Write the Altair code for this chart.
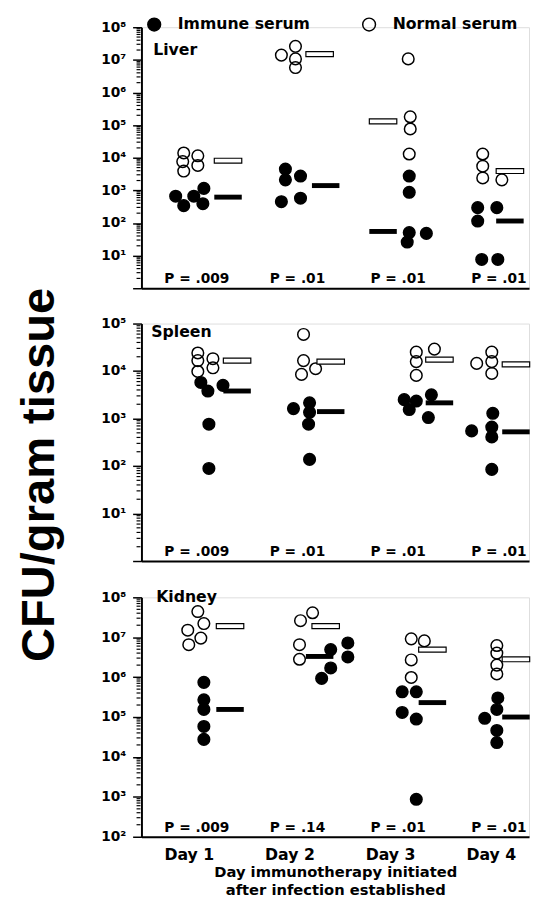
import altair as alt
import pandas as pd

DAYS = [1, 2, 3, 4]
GROUPS = ["Immune serum", "Normal serum"]

P_LIVER = ["P = .009", "P = .01", "P = .01", "P = .01"]
P_SPLEEN = ["P = .009", "P = .01", "P = .01", "P = .01"]
P_KIDNEY = ["P = .009", "P = .14", "P = .01", "P = .01"]

# ---- CFU / gram tissue, one list per day (Day 1..4) ----
liver_immune = [[660, 340, 660, 1150, 390], [4500, 2100, 2750, 450, 575],
                [2750, 870, 51, 48, 26], [295, 295, 115, 7.6, 7.6]]
liver_immune_dx = [[-0.13, -0.05, 0.05, 0.15, 0.14], [-0.04, -0.04, 0.11, -0.08, 0.11],
                   [0.19, 0.19, 0.19, 0.36, 0.17], [-0.13, 0.06, -0.13, -0.09, 0.07]]
liver_normal = [[14000, 11500, 7600, 5800, 3900], [1.4e7, 2.6e7, 1.07e7, 5.8e6],
                [1.07e7, 1.8e5, 7.6e4, 1.3e4], [13000, 5500, 2400, 2100]]
liver_normal_dx = [[-0.05, 0.09, -0.06, 0.09, -0.05], [-0.08, 0.06, 0.06, 0.06],
                   [0.18, 0.20, 0.20, 0.19], [-0.08, -0.08, -0.08, 0.11]]
liver_med_immune = [620, 1400, 55, 115]
liver_med_normal = [8100, 1.5e7, 1.3e5, 3900]
liver_med_immune_dx = [0.39, 0.36, -0.07, 0.19]
liver_med_normal_dx = [0.39, 0.30, -0.07, 0.19]

spleen_immune = [[5750, 3800, 5000, 760, 89], [1620, 2140, 1350, 760, 138],
                 [2500, 2340, 3160, 1550, 1050], [1290, 550, 660, 410, 85]]
spleen_immune_dx = [[0.12, 0.19, 0.34, 0.20, 0.20], [0.04, 0.20, 0.20, 0.19, 0.20],
                    [0.14, 0.26, 0.41, 0.19, 0.38], [0.02, -0.19, 0.01, 0.01, 0.01]]
spleen_normal = [[24000, 16600, 9800, 18200, 11700], [59000, 16600, 11200, 8500],
                 [25000, 29000, 15800, 8100], [14500, 25000, 15800, 8900]]
spleen_normal_dx = [[0.09, 0.09, 0.09, 0.24, 0.24], [0.14, 0.14, 0.26, 0.12],
                    [0.26, 0.44, 0.26, 0.26], [-0.14, 0.01, 0.01, 0.01]]
spleen_med_immune = [3800, 1400, 2140, 525]
spleen_med_normal = [16600, 15800, 17400, 13800]
spleen_med_immune_dx = [0.48, 0.41, 0.49, 0.25]
spleen_med_normal_dx = [0.48, 0.41, 0.49, 0.25]

kidney_immune = [[7.4e5, 2.7e5, 1.55e5, 5.8e4, 2.75e4], [4.9e6, 7.2e6, 3.2e6, 1.7e6, 9.3e5],
                 [4.3e5, 4.3e5, 1.3e5, 8.9e4, 870], [3.0e5, 1.55e5, 9.3e4, 4.6e4, 2.3e4]]
kidney_immune_dx = [[0.15, 0.15, 0.15, 0.15, 0.15], [0.41, 0.58, 0.58, 0.41, 0.32],
                    [0.12, 0.26, 0.12, 0.26, 0.26], [0.07, 0.06, -0.06, 0.06, 0.06]]
kidney_normal = [[4.4e7, 2.2e7, 1.5e7, 9.5e6, 6.5e6], [2.6e7, 4.1e7, 6.5e6, 2.8e6],
                 [9.1e6, 8.1e6, 2.7e6, 9.8e5], [6.2e6, 4.0e6, 2.0e6, 1.2e6]]
kidney_normal_dx = [[0.09, 0.15, -0.01, 0.12, 0.0], [0.11, 0.23, 0.10, 0.10],
                    [0.21, 0.34, 0.21, 0.21], [0.06, 0.06, 0.06, 0.06]]
kidney_med_immune = [1.55e5, 3.3e6, 2.3e5, 1.0e5]
kidney_med_normal = [1.9e7, 1.9e7, 4.9e6, 2.8e6]
kidney_med_immune_dx = [0.41, 0.30, 0.42, 0.25]
kidney_med_normal_dx = [0.41, 0.36, 0.42, 0.25]

FONT = "DejaVu Sans"
TITLE_FONT = "Liberation Sans"
X_DOMAIN = [0.53, 4.38]
SUPERS = "['\u2070','\u00b9','\u00b2','\u00b3','\u2074','\u2075','\u2076','\u2077','\u2078','\u2079']"
LOG10 = "round(log(datum.value)/LN10)"
LABEL_EXPR = f"datum.value >= 10 ? '10' + {SUPERS}[{LOG10}] : ''"


def points_df(immune, immune_dx, normal, normal_dx):
    rows = []
    for grp, vals, dxs in ((GROUPS[0], immune, immune_dx), (GROUPS[1], normal, normal_dx)):
        for d, vs, ds in zip(DAYS, vals, dxs):
            for v, dx in zip(vs, ds):
                rows.append({"group": grp, "day": d, "x": d + dx, "cfu": v})
    return pd.DataFrame(rows)


def med_df(vals, dxs, grp):
    return pd.DataFrame({"group": grp, "day": DAYS,
                         "x": [d + dx for d, dx in zip(DAYS, dxs)], "cfu": vals})


def major_values(lo, hi):
    return [float(10 ** e) for e in range(lo, hi + 1)]


def minor_values(lo, hi):
    return [float(k * 10 ** e) for e in range(lo, hi) for k in range(2, 10)]


def panel(name, label_xy, lo, hi, height, pts, med_i, med_n, pvals, bottom):
    major_axis = alt.Axis(values=major_values(lo, hi), labelExpr=LABEL_EXPR, orient="left",
                          tickSize=9, tickWidth=1.5, tickColor="black", domainWidth=2,
                          domainColor="black", labelFont=FONT, labelFontSize=14,
                          labelFontWeight="bold", labelColor="black", labelPadding=7,
                          labelOverlap=False, labelFlush=False, grid=False, title=None)
    if bottom:
        xaxis = alt.Axis(values=DAYS, labelExpr="'Day ' + datum.value", ticks=False,
                         domainWidth=2, domainColor="black", labelFont=FONT,
                         labelFontSize=16, labelFontWeight="bold", labelColor="black",
                         labelPadding=10, labelFlush=False, grid=False,
                         title=["Day immunotherapy initiated", "after infection established"],
                         titleFont=FONT, titleFontSize=15, titleFontWeight="bold",
                         titleLineHeight=18, titlePadding=3, titleColor="black")
    else:
        xaxis = alt.Axis(labels=False, ticks=False, domainWidth=2, domainColor="black",
                         grid=False, title=None)
    xs = alt.Scale(domain=X_DOMAIN, nice=False, zero=False)
    ys = alt.Scale(type="log", domain=[10 ** lo, 10 ** hi], nice=False)
    x = alt.X("x:Q", scale=xs, axis=xaxis)
    y = alt.Y("cfu:Q", scale=ys, axis=major_axis)

    # minor (2..9 x 10^n) tick marks along the left axis line
    minor = alt.Chart(pd.DataFrame({"cfu": minor_values(lo, hi)})).mark_tick(
        orient="horizontal", size=4, thickness=1.2, color="black", opacity=1
    ).encode(x=alt.value(-3), y=y)

    bars_i = alt.Chart(med_i).mark_tick(orient="horizontal", size=28, thickness=5,
                                        color="black", opacity=1).encode(x=x, y=y)
    bars_n = alt.Chart(med_n).mark_tick(orient="horizontal", size=28, thickness=5,
                                        fill="white", stroke="black", strokeWidth=1.2,
                                        opacity=1).encode(x=x, y=y)
    dots = alt.Chart(pts).mark_point(shape="circle", filled=True, size=140, stroke="black",
                                     strokeWidth=1.5, opacity=1).encode(
        x=x, y=y,
        fill=alt.Fill("group:N", scale=alt.Scale(domain=GROUPS, range=["black", "transparent"]),
                      legend=alt.Legend(title=None, orient="none", legendX=5, legendY=-11,
                                        direction="horizontal", symbolType="circle",
                                        symbolSize=170, symbolStrokeColor="black",
                                        symbolStrokeWidth=1.5, labelFont=FONT,
                                        labelFontSize=16, labelFontWeight="bold",
                                        labelColor="black", labelOffset=16,
                                        columnPadding=50)))
    pdf = pd.DataFrame({"x": [d + 0.08 for d in DAYS], "p": pvals})
    ptxt = alt.Chart(pdf).mark_text(font=FONT, fontSize=14, fontWeight="bold", color="black",
                                    baseline="middle").encode(
        x=alt.X("x:Q", scale=xs, axis=xaxis), y=alt.value(height - 9), text="p:N")
    ldf = pd.DataFrame({"t": [name]})
    lbl = alt.Chart(ldf).mark_text(font=FONT, fontSize=16, fontWeight="bold", color="black",
                                   align="left", baseline="middle").encode(
        x=alt.value(label_xy[0]), y=alt.value(label_xy[1]), text="t:N")
    return (alt.layer(dots, minor, bars_i, bars_n, ptxt, lbl)
            .properties(width=395, height=height))


liver = panel("Liver", (12, 23), 0, 8, 266,
              points_df(liver_immune, liver_immune_dx, liver_normal, liver_normal_dx),
              med_df(liver_med_immune, liver_med_immune_dx, GROUPS[0]),
              med_df(liver_med_normal, liver_med_normal_dx, GROUPS[1]), P_LIVER, False)
spleen = panel("Spleen", (10, 9), 0, 5, 242,
               points_df(spleen_immune, spleen_immune_dx, spleen_normal, spleen_normal_dx),
               med_df(spleen_med_immune, spleen_med_immune_dx, GROUPS[0]),
               med_df(spleen_med_normal, spleen_med_normal_dx, GROUPS[1]), P_SPLEEN, False)
kidney = panel("Kidney", (15, 0), 2, 8, 244,
               points_df(kidney_immune, kidney_immune_dx, kidney_normal, kidney_normal_dx),
               med_df(kidney_med_immune, kidney_med_immune_dx, GROUPS[0]),
               med_df(kidney_med_normal, kidney_med_normal_dx, GROUPS[1]), P_KIDNEY, True)

chart = alt.vconcat(liver, spleen, kidney, spacing=20).properties(
    title=alt.TitleParams("CFU/gram tissue", orient="left", anchor="middle", font=TITLE_FONT,
                          fontSize=48, fontWeight="bold", color="black", offset=37, dx=-18),
    padding={"left": 8, "top": 0, "right": 0, "bottom": 0},
).configure_view(strokeWidth=0).configure(background="white")

chart.save("out.html", embed_options={"renderer": "svg", "actions": False})
